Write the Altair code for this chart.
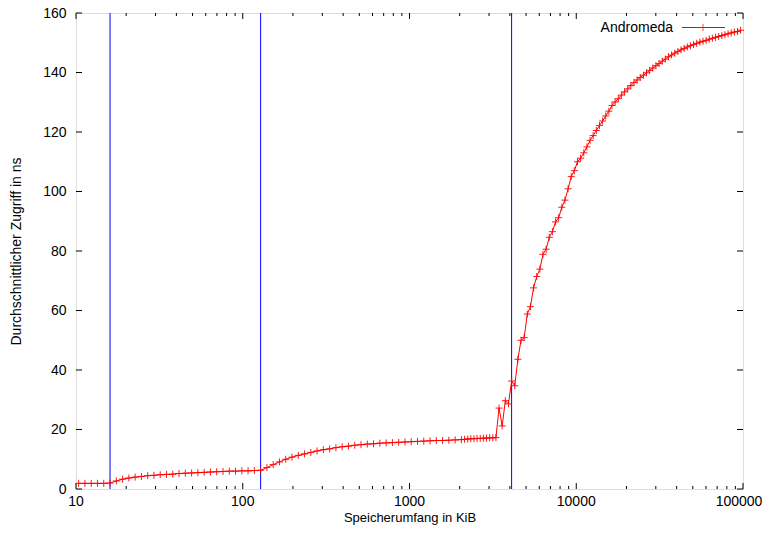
import altair as alt
import pandas as pd

# ---- data ----
sizes_kib_a = [10.37, 11.31, 12.34, 13.45, 14.67, 16, 17.45, 19.03, 20.75, 22.63,
               24.68, 26.91, 29.34, 32, 34.90, 38.05, 41.50, 45.25, 49.35, 53.82,
               58.69, 64, 69.79, 76.11, 83.00, 90.51, 98.70, 107.6, 117.4, 128,
               139.6, 152.2, 166.0, 181.0, 197.4, 215.3, 234.8, 256, 279.2, 304.4,
               332.0, 362.0, 394.8, 430.5, 469.5, 512, 558.3, 608.9, 664.0, 724.1,
               789.6, 861.1, 939.1, 1024, 1116.7, 1217.8, 1328.0, 1448.2, 1579.2, 1722.2,
               1878.1]
latency_a = [1.9, 1.9, 1.9, 1.9, 1.9, 2.0, 2.7, 3.3, 3.7, 4.0,
             4.2, 4.5, 4.6, 4.8, 4.9, 5.0, 5.2, 5.3, 5.4, 5.5,
             5.6, 5.7, 5.8, 5.9, 6.0, 6.0, 6.1, 6.1, 6.2, 6.3,
             7.2, 8.2, 9.1, 10.0, 10.7, 11.3, 11.8, 12.3, 12.8, 13.2,
             13.5, 13.9, 14.2, 14.4, 14.7, 14.9, 15.1, 15.2, 15.4, 15.5,
             15.6, 15.7, 15.8, 15.9, 16.0, 16.1, 16.2, 16.3, 16.3, 16.4,
             16.5]

sizes_kib_b = [2048, 2138.6, 2233.4, 2332.2, 2435.5, 2543.3, 2655.9, 2773.5, 2896.3, 3024.5, 3158.4, 3298.3, 3444.3, 3596.8, 3756.1, 3922.3,
               4096, 4277.3, 4466.7, 4664.5, 4871.0, 5086.7, 5311.9, 5547.0, 5792.6, 6049.1, 6316.9, 6596.6, 6888.6, 7193.6, 7512.1, 7844.7,
               8192, 8554.7, 8933.5, 9328.9, 9742.0, 10173.3, 10623.7, 11094.1, 11585.2, 12098.2, 12633.8, 13193.2, 13777.2, 14387.4, 15024.3, 15689.4,
               16384, 17109.3, 17867.1, 18657.9, 19484.0, 20346.6, 21247.4, 22188.2, 23170.5, 24196.4, 25267.6, 26386.4, 27554.8, 28774.6, 30048.6, 31378.8,
               32768, 34218.6, 35734.0, 37315.9, 38968.0, 40693.3, 42494.9, 44376.4, 46341.0, 48392.8, 50535.1, 52772.8, 55109.2, 57549.0, 60097.1, 62757.6,
               65536, 68437.3, 71468.0, 74631.9, 77936.1, 81386.5, 84989.8, 88752.7, 92682.0, 96785.6]
latency_b = [16.6, 16.7, 16.8, 16.9, 16.9, 17.0, 17.0, 17.1, 17.1, 17.2, 17.2, 17.3,
             27.2, 21.2, 29.7, 28.6, 36.3, 34.7, 43.6, 50.0, 50.9, 58.8, 61.3, 67.6, 71.4,
             73.9, 78.9, 80.6, 84.6, 86.5, 89.8, 91.2, 94.7, 97.1, 100.9, 105.0, 107.0, 110.0,
             111.2, 113.0, 115.0, 117.2, 118.8, 120.5, 122.2, 123.7, 125.4, 127.0,
             128.9, 130.1, 131.2, 132.4, 133.5, 134.5, 135.6, 136.6, 137.5, 138.3,
             139.1, 139.9, 140.7, 141.5, 142.3, 143.0, 143.8, 144.5, 145.3, 145.9,
             146.5, 147.1, 147.6, 148.1, 148.6, 149.0, 149.4, 149.8, 150.2, 150.5,
             150.8, 151.2, 151.5, 151.8, 152.1, 152.4, 152.7, 153.0, 153.3, 153.6,
             153.8, 154.2]

cache_sizes_kib = [16, 128, 4096]
series_name = ["Andromeda"]
x_major = [10, 100, 1000, 10000, 100000]
x_labels = ["10", "100", "1000", "10000", "100000"]
x_minor = [m * d for d in [10, 100, 1000, 10000] for m in range(2, 10)]
y_major = [0, 20, 40, 60, 80, 100, 120, 140, 160]

# ---- chart ----
W, H = 667, 476
FONT = "Liberation Sans"
RED = "#ff0000"

df = pd.DataFrame({"size": sizes_kib_a + sizes_kib_b, "lat": latency_a + latency_b})
x_scale = alt.Scale(type="log", domain=[10, 100000], nice=False)
y_scale = alt.Scale(domain=[0, 160], nice=False, zero=False)

x_axis = alt.Axis(values=x_major, labels=False, ticks=False, tickSize=0, domain=False, grid=False,
                  title="Speicherumfang in KiB", titleFont=FONT,
                  titleFontSize=13, titleFontWeight="normal", titleColor="black",
                  titleY=32, titleBaseline="alphabetic")
y_axis = alt.Axis(values=y_major, ticks=False, tickSize=0, domain=False, grid=False,
                  labelFontSize=14, labelPadding=10, labelColor="black", labelFont=FONT,
                  labelFlush=False, labelOverlap=False, title="Durchschnittlicher Zugriff in ns", titleFont=FONT,
                  titleFontSize=14, titleFontWeight="normal", titleColor="black",
                  titleX=-60, titleY=H / 2, titleAngle=270, titleAlign="center",
                  titleBaseline="middle")

X = lambda f: alt.X(f, scale=x_scale, axis=x_axis)
Y = lambda f: alt.Y(f, scale=y_scale, axis=y_axis)

cache_lines = alt.Chart(pd.DataFrame({"c": cache_sizes_kib})).mark_rule(
    color="#0000ff", strokeWidth=1).encode(x=X("c:Q"))

xmaj = pd.DataFrame({"t": x_major})
xmin = pd.DataFrame({"t": x_minor})
ymaj = pd.DataFrame({"t": y_major})
xlab = pd.DataFrame({"t": x_major, "label": x_labels})

def xticks(data, length, top):
    if top:
        y0, y1 = 0, length
    else:
        y0, y1 = H, H - length
    return alt.Chart(data).mark_rule(color="black", strokeWidth=1).encode(
        x=X("t:Q"), y=alt.value(y0), y2=alt.value(y1))

def yticks(right):
    x0, x1 = (W, W - 6) if right else (0, 6)
    return alt.Chart(ymaj).mark_rule(color="black", strokeWidth=1).encode(
        y=Y("t:Q"), x=alt.value(x0), x2=alt.value(x1))

# x tick labels as text (the last one is nudged so it stays inside the page)
xlab_inner = alt.Chart(xlab).transform_filter("datum.t < 100000").mark_text(
    baseline="top", align="center", fontSize=14, font=FONT, color="black").encode(
    x=X("t:Q"), y=alt.value(H + 6), text="label:N")
xlab_last = alt.Chart(xlab).transform_filter("datum.t >= 100000").mark_text(
    baseline="top", align="center", fontSize=14, font=FONT, color="black", dx=-4).encode(
    x=X("t:Q"), y=alt.value(H + 6), text="label:N")

line = alt.Chart(df).mark_line(color=RED, strokeWidth=1).encode(
    x=X("size:Q"), y=Y("lat:Q"))

pts = alt.Chart(df).mark_point(shape="M-1,0H1M0,-1V1", size=49, filled=False,
                               color=RED, strokeWidth=1, opacity=0.9).encode(
    x=X("size:Q"), y=Y("lat:Q"))

leg_df = pd.DataFrame({"name": series_name})
leg_text = alt.Chart(leg_df).mark_text(align="right", baseline="middle", fontSize=14,
                                       font=FONT, color="black").encode(
    text="name:N", x=alt.value(597), y=alt.value(14.5))
leg_line = alt.Chart(leg_df).mark_rule(color=RED, strokeWidth=1).encode(
    x=alt.value(606), x2=alt.value(649), y=alt.value(14.5))
leg_pt = alt.Chart(leg_df).mark_point(shape="M-1,0H1M0,-1V1", size=49, filled=False,
                                      color=RED, strokeWidth=1).encode(
    x=alt.value(627), y=alt.value(14.5))

chart = alt.layer(
    cache_lines,
    xticks(xmaj, 6, False), xticks(xmaj, 6, True),
    xticks(xmin, 3, False), xticks(xmin, 3, True),
    yticks(False), yticks(True),
    xlab_inner, xlab_last,
    line, pts, leg_text, leg_line, leg_pt,
).properties(
    width=W, height=H,
    autosize=alt.AutoSizeParams(type="none"),
    padding={"left": 68, "top": 5, "right": 19, "bottom": 36},
).configure_view(stroke="black", strokeWidth=1).configure(background="white")

chart.save("out.html", embed_options={"renderer": "svg", "actions": False})
